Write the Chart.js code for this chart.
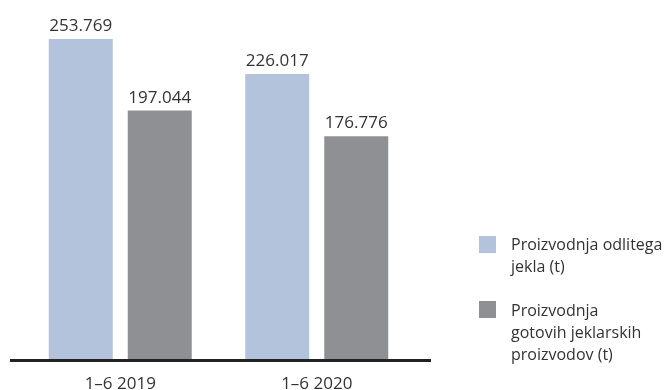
<!DOCTYPE html>
<html>
<head>
<meta charset="utf-8">
<script src="https://cdn.jsdelivr.net/npm/chart.js@4.4.1/dist/chart.umd.min.js"></script>
<style>
  html, body { margin: 0; padding: 0; background: #fff; }
  #wrap { position: relative; width: 668px; height: 390px; overflow: hidden; }
  canvas { position: absolute; left: 0; top: 0; }
  .leg { position: absolute; font-family: "Open Sans", sans-serif; font-size: 16px; color: #333; line-height: 22px; }
  .sw { position: absolute; width: 17px; height: 17px; }
</style>
</head>
<body>
<div id="wrap">
  <canvas id="c" width="668" height="390"></canvas>
  <div class="sw" style="left:479px; top:236px; background:#b3c3dc;"></div>
  <div class="leg" style="left:511px; top:233px;">Proizvodnja odlitega<br>jekla (t)</div>
  <div class="sw" style="left:479px; top:301px; background:#8f9093;"></div>
  <div class="leg" style="left:511px; top:299px;">Proizvodnja<br>gotovih jeklarskih<br>proizvodov (t)</div>
</div>
<script>
const categories = ["1–6 2019", "1–6 2020"];
const seriesNames = ["Proizvodnja odlitega jekla (t)", "Proizvodnja gotovih jeklarskih proizvodov (t)"];
const castSteel = [253769, 226017];
const finishedProducts = [197044, 176776];

function fmt(v) {
  return String(v).replace(/\B(?=(\d{3})+(?!\d))/g, ".");
}

const FONT = '"Open Sans", sans-serif';

const valueLabels = {
  id: 'valueLabels',
  afterDatasetsDraw(chart) {
    const ctx = chart.ctx;
    ctx.save();
    ctx.font = '17px ' + FONT;
    ctx.fillStyle = '#333';
    ctx.textAlign = 'center';
    ctx.textBaseline = 'alphabetic';
    chart.data.datasets.forEach((ds, i) => {
      chart.getDatasetMeta(i).data.forEach((bar, j) => {
        ctx.fillText(fmt(ds.data[j]), bar.x, bar.y - 8);
      });
    });
    ctx.restore();
  }
};

const categoryLabels = {
  id: 'categoryLabels',
  afterDraw(chart) {
    const ctx = chart.ctx;
    const xs = chart.scales.x;
    ctx.save();
    ctx.font = '17px ' + FONT;
    ctx.fillStyle = '#333';
    ctx.textAlign = 'center';
    ctx.textBaseline = 'alphabetic';
    chart.data.labels.forEach((lab, i) => {
      ctx.fillText(lab, xs.getPixelForValue(i), 389);
    });
    ctx.restore();
  }
};

const baseline = {
  id: 'baseline',
  afterDatasetsDraw(chart) {
    const ctx = chart.ctx;
    const y = chart.scales.y.getPixelForValue(0) + 1.5;
    ctx.save();
    ctx.strokeStyle = '#222';
    ctx.lineWidth = 3;
    ctx.beginPath();
    ctx.moveTo(10, y);
    ctx.lineTo(431, y);
    ctx.stroke();
    ctx.restore();
  }
};

new Chart(document.getElementById('c'), {
  type: 'bar',
  data: {
    labels: categories,
    datasets: [
      { label: seriesNames[0], data: castSteel, backgroundColor: '#b3c3dc' },
      { label: seriesNames[1], data: finishedProducts, backgroundColor: '#8f9093' }
    ]
  },
  options: {
    responsive: false,
    animation: false,
    devicePixelRatio: 1,
    layout: { padding: { left: 22, right: 253, top: 6, bottom: 31 } },
    datasets: { bar: { categoryPercentage: 0.804, barPercentage: 0.81 } },
    plugins: { legend: { display: false }, tooltip: { enabled: false } },
    scales: {
      x: { display: false },
      y: { display: false, min: 0, max: 280000 }
    }
  },
  plugins: [valueLabels, baseline, categoryLabels]
});
</script>
</body>
</html>
